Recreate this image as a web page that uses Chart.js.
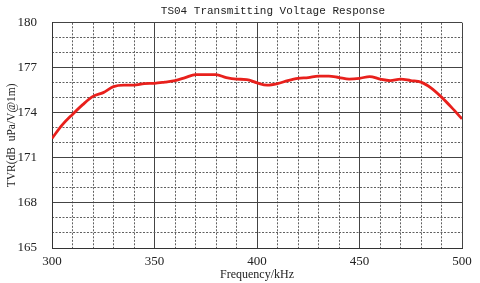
<!DOCTYPE html>
<html><head><meta charset="utf-8">
<script src="https://cdn.jsdelivr.net/npm/chart.js@4/dist/chart.umd.min.js"></script>
<style>html,body{margin:0;padding:0;background:#fff}#wrap{width:480px;height:283px}</style>
</head><body><div id="wrap"><canvas id="c" width="480" height="283"></canvas></div>
<script>
const chartTitle = "TS04 Transmitting Voltage Response";
const xTitle = "Frequency/kHz";
const yTitle = "TVR(dB  uPa/V@1m)";
const frequencies = [300,305,310,315,320,325,330,335,340,345,350,355,360,365,370,375,380,385,390,395,400,405,410,415,420,425,430,435,440,445,450,455,460,465,470,475,480,485,490,495,500];
const tvr = [172.3,173.2,173.9,174.55,175.1,175.35,175.75,175.85,175.85,175.95,175.97,176.05,176.15,176.35,176.55,176.55,176.55,176.35,176.25,176.22,176.0,175.85,175.95,176.15,176.3,176.35,176.45,176.45,176.35,176.25,176.3,176.42,176.25,176.15,176.25,176.15,176.05,175.65,175.05,174.35,173.6];
const xMin = 300, xMax = 500, xMajor = 50, xMinor = 10;
const yMin = 165, yMax = 180, yMajor = 3, yMinor = 1;

const serif = "'Liberation Serif', 'DejaVu Serif', serif";
const titlePlugin = {
  id: 'topTitle',
  afterDraw(chart) {
    const ctx = chart.ctx;
    ctx.save();
    ctx.font = "11px 'Liberation Mono', monospace";
    ctx.fillStyle = '#222';
    ctx.textAlign = 'center';
    ctx.textBaseline = 'middle';
    ctx.fillText(chartTitle, 273, 11);
    ctx.restore();
  }
};

new Chart(document.getElementById('c'), {
  type: 'line',
  data: {
    datasets: [{
      data: frequencies.map((f, i) => ({x: f, y: tvr[i]})),
      borderColor: '#e8201c',
      borderWidth: 2.8,
      pointRadius: 0,
      tension: 0.4,
      cubicInterpolationMode: 'monotone',
      fill: false
    }]
  },
  options: {
    responsive: false,
    animation: false,
    layout: {padding: {top: 22, right: 18, left: 0, bottom: 0}},
    plugins: {legend: {display: false}, tooltip: {enabled: false}, title: {display: false}},
    scales: {
      xMinor: {
        type: 'linear', position: 'bottom', min: xMin, max: xMax,
        ticks: {display: false, stepSize: xMinor},
        grid: {color: '#606060', lineWidth: 1, drawTicks: false},
        border: {display: false, dash: [2, 1.5]},
        afterFit(s) { s.height = 0; }
      },
      x: {
        type: 'linear', position: 'bottom', min: xMin, max: xMax,
        ticks: {stepSize: xMajor, padding: 6, color: '#222', font: {family: serif, size: 13}, maxRotation: 0},
        grid: {color: '#444', lineWidth: 1, drawTicks: false},
        border: {display: true, color: '#333'},
        title: {display: true, text: xTitle, color: '#222', font: {family: serif, size: 12}, padding: {top: 0, bottom: 1}},
        afterFit(s) { s.height = 35; }
      },
      yMinor: {
        type: 'linear', position: 'left', min: yMin, max: yMax,
        ticks: {display: false, stepSize: yMinor},
        grid: {color: '#606060', lineWidth: 1, drawTicks: false},
        border: {display: false, dash: [2, 1.5]},
        afterFit(s) { s.width = 0; }
      },
      y: {
        type: 'linear', position: 'left', min: yMin, max: yMax,
        ticks: {stepSize: yMajor, padding: 15, color: '#222', font: {family: serif, size: 13}},
        grid: {color: '#444', lineWidth: 1, drawTicks: false},
        border: {display: true, color: '#333'},
        title: {display: true, text: yTitle, color: '#222', font: {family: serif, size: 11.5}, padding: {top: 5, bottom: 0}},
        afterFit(s) { s.width = 52; }
      }
    }
  },
  plugins: [titlePlugin]
});
</script></body></html>
